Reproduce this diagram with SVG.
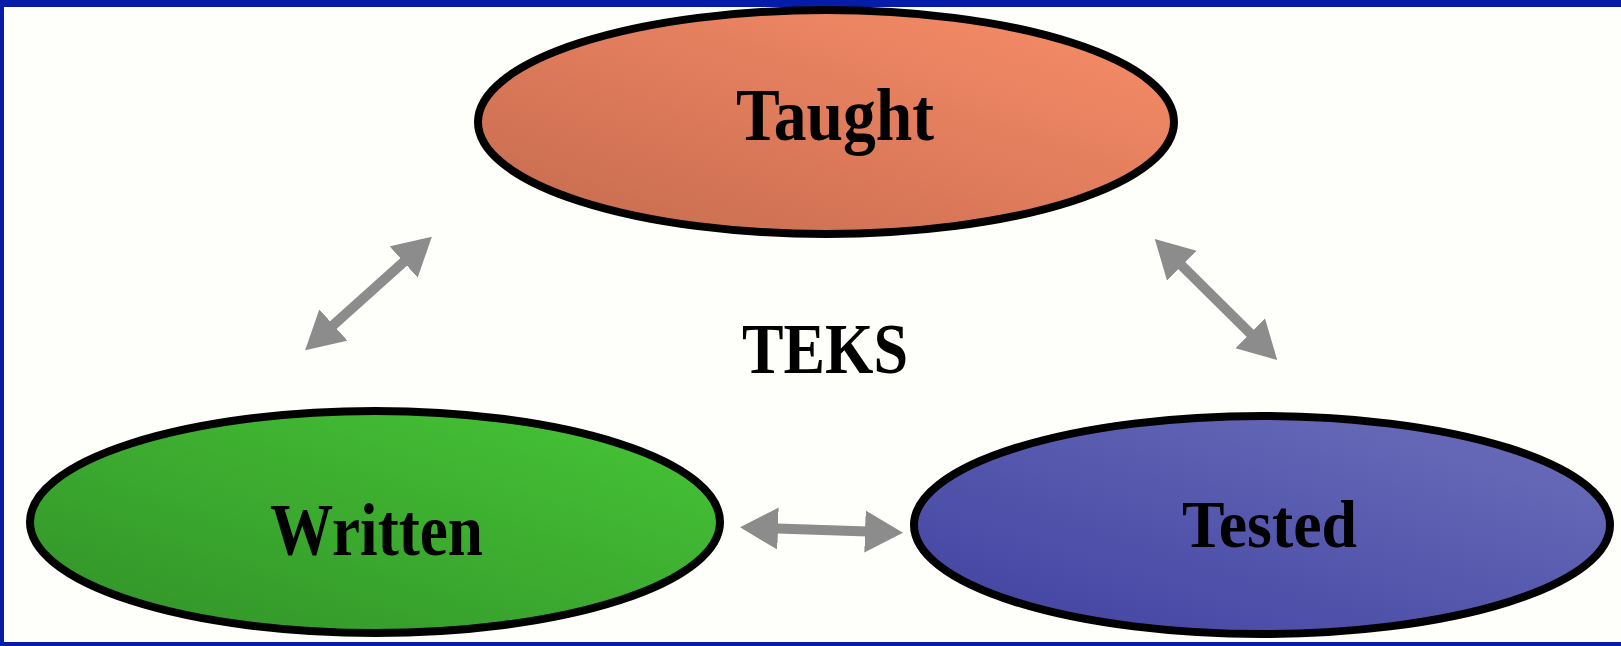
<svg xmlns="http://www.w3.org/2000/svg" width="1621" height="646" viewBox="0 0 1621 646">
<style>
.node{stroke:#000;stroke-width:8}
.lbl{font-family:"Liberation Serif","Times New Roman",serif;font-weight:bold;fill:#000}
.conn{stroke:#8c8c8c;stroke-width:10;fill:none;marker-start:url(#ah);marker-end:url(#ah)}
</style>
<defs>
<linearGradient id="gOrange" x1="0" y1="1" x2="1" y2="0">
<stop offset="0" stop-color="#c46a4e"/><stop offset="1" stop-color="#fa8e69"/>
</linearGradient>
<linearGradient id="gGreen" x1="0" y1="1" x2="1" y2="0">
<stop offset="0" stop-color="#319128"/><stop offset="1" stop-color="#47c637"/>
</linearGradient>
<linearGradient id="gBlue" x1="0" y1="1" x2="1" y2="0">
<stop offset="0" stop-color="#3f41a0"/><stop offset="1" stop-color="#6d6fbb"/>
</linearGradient>
<marker id="ah" markerUnits="userSpaceOnUse" markerWidth="40" markerHeight="44" refX="18" refY="21" orient="auto-start-reverse">
<path d="M0,0 L38,21 L0,42 z" fill="#8c8c8c"/>
</marker>
</defs>
<rect x="0" y="0" width="1621" height="646" fill="#fefefb"/>
<g id="frame" fill="#041ca8">
<rect x="0" y="0" width="1621" height="7"/>
<rect x="0" y="0" width="4" height="646"/>
<rect x="0" y="642" width="1621" height="4"/>
</g>
<g id="connectors">
<line class="conn" x1="320" y1="337" x2="417" y2="250"/>
<line class="conn" x1="1169" y1="253" x2="1263" y2="346"/>
<line class="conn" x1="760" y1="528" x2="883" y2="532"/>
</g>
<g id="taught">
<ellipse class="node" cx="826" cy="122" rx="348" ry="112" fill="url(#gOrange)"/>
<text class="lbl" x="736" y="140" font-size="73" textLength="198" lengthAdjust="spacingAndGlyphs">Taught</text>
</g>
<g id="written">
<ellipse class="node" cx="375" cy="522" rx="345" ry="111" fill="url(#gGreen)"/>
<text class="lbl" x="270" y="555" font-size="75" textLength="213" lengthAdjust="spacingAndGlyphs">Written</text>
</g>
<g id="tested">
<ellipse class="node" cx="1262" cy="525" rx="348" ry="109" fill="url(#gBlue)"/>
<text class="lbl" x="1182" y="547" font-size="68" textLength="175" lengthAdjust="spacingAndGlyphs">Tested</text>
</g>
<g id="teks">
<text class="lbl" x="742" y="373" font-size="72" textLength="166" lengthAdjust="spacingAndGlyphs">TEKS</text>
</g>
</svg>
